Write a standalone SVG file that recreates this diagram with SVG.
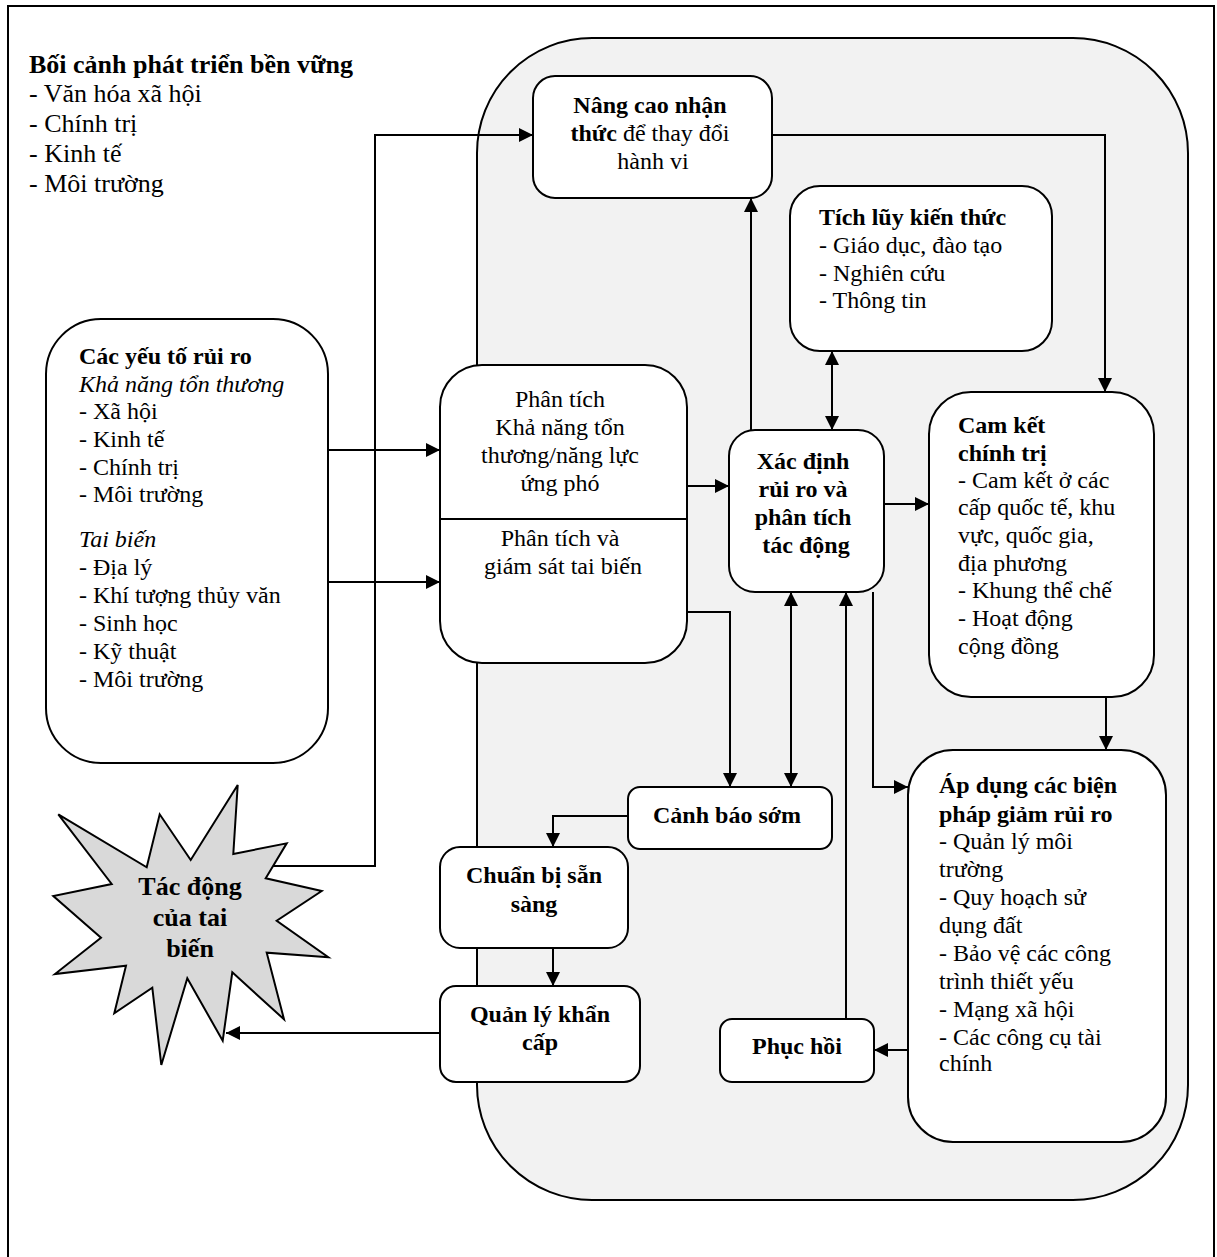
<svg xmlns="http://www.w3.org/2000/svg" width="1217" height="1257" viewBox="0 0 1217 1257">
<defs>
<marker id="ah" markerUnits="userSpaceOnUse" markerWidth="15" markerHeight="15" refX="14" refY="7" orient="auto-start-reverse">
<path d="M0,0 L14,7 L0,14 z" fill="#000"/>
</marker>
<style>
.box{fill:#fff;stroke:#000;stroke-width:2}
.ln{fill:none;stroke:#000;stroke-width:2}
.t{font-family:"Liberation Serif","Times New Roman",serif;font-size:24px;fill:#000}
.b{font-weight:bold}
.i{font-style:italic}
.c{text-anchor:middle}
</style>
</defs>
<rect x="0" y="0" width="1217" height="1257" fill="#fff"/>
<rect x="8" y="6" width="1206" height="1270" fill="none" stroke="#000" stroke-width="2"/>

<g id="context">
<text class="t" x="29" y="73" style="font-size:26px"><tspan class="b">Bối cảnh phát triển bền vững</tspan>
<tspan x="29" y="102">- Văn hóa xã hội</tspan>
<tspan x="29" y="132">- Chính trị</tspan>
<tspan x="29" y="162">- Kinh tế</tspan>
<tspan x="29" y="192">- Môi trường</tspan></text>
</g>

<g id="frame">
<rect x="477" y="38" width="711" height="1162" rx="115" ry="115" fill="#f2f2f2" stroke="#000" stroke-width="2"/>
</g>

<g id="connectors">
<path class="ln" d="M273,866 H375 V135 H533" marker-end="url(#ah)"/>
<path class="ln" d="M772,135 H1105 V392" marker-end="url(#ah)"/>
<path class="ln" d="M328,450 H440" marker-end="url(#ah)"/>
<path class="ln" d="M328,582 H440" marker-end="url(#ah)"/>
<path class="ln" d="M687,486 H729" marker-end="url(#ah)"/>
<path class="ln" d="M884,504 H929" marker-end="url(#ah)"/>
<path class="ln" d="M751,430 V198" marker-end="url(#ah)"/>
<path class="ln" d="M832,351 V430" marker-start="url(#ah)" marker-end="url(#ah)"/>
<path class="ln" d="M687,612 H730 V787" marker-end="url(#ah)"/>
<path class="ln" d="M791,592 V787" marker-start="url(#ah)" marker-end="url(#ah)"/>
<path class="ln" d="M846,1019 V592" marker-end="url(#ah)"/>
<path class="ln" d="M873,592 V787 H908" marker-end="url(#ah)"/>
<path class="ln" d="M1106,697 V750" marker-end="url(#ah)"/>
<path class="ln" d="M908,1050 H874" marker-end="url(#ah)"/>
<path class="ln" d="M628,816 H553 V847" marker-end="url(#ah)"/>
<path class="ln" d="M553,948 V986" marker-end="url(#ah)"/>
<path class="ln" d="M440,1033 H226" marker-end="url(#ah)"/>
</g>

<g id="risk-factors">
<rect class="box" x="46" y="319" width="282" height="444" rx="55"/>
<text class="t" x="79" y="364"><tspan class="b">Các yếu tố rủi ro</tspan>
<tspan x="79" y="392" class="i">Khả năng tổn thương</tspan>
<tspan x="79" y="419">- Xã hội</tspan>
<tspan x="79" y="447">- Kinh tế</tspan>
<tspan x="79" y="475">- Chính trị</tspan>
<tspan x="79" y="502">- Môi trường</tspan>
<tspan x="79" y="547" class="i">Tai biến</tspan>
<tspan x="79" y="575">- Địa lý</tspan>
<tspan x="79" y="603">- Khí tượng thủy văn</tspan>
<tspan x="79" y="631">- Sinh học</tspan>
<tspan x="79" y="659">- Kỹ thuật</tspan>
<tspan x="79" y="687">- Môi trường</tspan></text>
</g>

<g id="hazard-impact">
<polygon points="237.7,785 233.3,854 286.7,843.3 265.7,878.3 321.7,891 276.7,920.7 328.3,957.3 266.7,952.7 284,1019.3 232.3,972.3 222.7,1040.7 187.3,978.3 161.3,1065 152.3,987.7 114.3,1013.3 126,965.7 55,974 101,937.7 53.3,896 111.7,884 58.3,814.3 146.7,867.3 159.7,814.3 190.7,860" fill="#d9d9d9" stroke="#000" stroke-width="2" stroke-linejoin="miter"/>
<text class="t b c" x="190" y="895" style="font-size:26px">Tác động<tspan x="190" y="926">của tai</tspan><tspan x="190" y="957">biến</tspan></text>
</g>

<g id="awareness">
<rect class="box" x="533" y="76" width="239" height="122" rx="22"/>
<text class="t c" x="653" y="113"><tspan class="b">Nâng cao nhận</tspan>
<tspan x="653" y="141"><tspan class="b">thức</tspan> để thay đổi</tspan>
<tspan x="653" y="169">hành vi</tspan></text>
</g>

<g id="knowledge">
<rect class="box" x="790" y="186" width="262" height="165" rx="30"/>
<text class="t" x="819" y="225"><tspan class="b">Tích lũy kiến thức</tspan>
<tspan x="819" y="253">- Giáo dục, đào tạo</tspan>
<tspan x="819" y="281">- Nghiên cứu</tspan>
<tspan x="819" y="308">- Thông tin</tspan></text>
</g>

<g id="analysis">
<rect class="box" x="440" y="365" width="247" height="298" rx="42"/>
<line class="ln" x1="440" y1="519" x2="687" y2="519"/>
<text class="t c" x="563" y="407">Phân tích
<tspan x="563" y="435">Khả năng tổn</tspan>
<tspan x="563" y="463">thương/năng lực</tspan>
<tspan x="563" y="491">ứng phó</tspan>
<tspan x="563" y="546">Phân tích và</tspan>
<tspan x="563" y="574">giám sát tai biến</tspan></text>
</g>

<g id="risk-identification">
<rect class="box" x="729" y="430" width="155" height="162" rx="26"/>
<text class="t b c" x="806" y="469">Xác định
<tspan x="806" y="497">rủi ro và</tspan>
<tspan x="806" y="525">phân tích</tspan>
<tspan x="806" y="553">tác động</tspan></text>
</g>

<g id="political-commitment">
<rect class="box" x="929" y="392" width="225" height="305" rx="42"/>
<text class="t" x="958" y="433"><tspan class="b">Cam kết</tspan>
<tspan x="958" y="461" class="b">chính trị</tspan>
<tspan x="958" y="488">- Cam kết ở các</tspan>
<tspan x="958" y="515">cấp quốc tế, khu</tspan>
<tspan x="958" y="543">vực, quốc gia,</tspan>
<tspan x="958" y="571">địa phương</tspan>
<tspan x="958" y="598">- Khung thể chế</tspan>
<tspan x="958" y="626">- Hoạt động</tspan>
<tspan x="958" y="654">cộng đồng</tspan></text>
</g>

<g id="early-warning">
<rect class="box" x="628" y="787" width="204" height="62" rx="12"/>
<text class="t b c" x="727" y="823">Cảnh báo sớm</text>
</g>

<g id="preparedness">
<rect class="box" x="440" y="847" width="188" height="101" rx="20"/>
<text class="t b c" x="534" y="883">Chuẩn bị sẵn<tspan x="534" y="912">sàng</tspan></text>
</g>

<g id="emergency-management">
<rect class="box" x="440" y="986" width="200" height="96" rx="16"/>
<text class="t b c" x="540" y="1022">Quản lý khẩn<tspan x="540" y="1050">cấp</tspan></text>
</g>

<g id="recovery">
<rect class="box" x="720" y="1019" width="154" height="63" rx="12"/>
<text class="t b c" x="797" y="1054">Phục hồi</text>
</g>

<g id="risk-reduction">
<rect class="box" x="908" y="750" width="258" height="392" rx="45"/>
<text class="t" x="939" y="793"><tspan class="b">Áp dụng các biện</tspan>
<tspan x="939" y="822" class="b">pháp giảm rủi ro</tspan>
<tspan x="939" y="849">- Quản lý môi</tspan>
<tspan x="939" y="877">trường</tspan>
<tspan x="939" y="905">- Quy hoạch sử</tspan>
<tspan x="939" y="933">dụng đất</tspan>
<tspan x="939" y="961">- Bảo vệ các công</tspan>
<tspan x="939" y="989">trình thiết yếu</tspan>
<tspan x="939" y="1017">- Mạng xã hội</tspan>
<tspan x="939" y="1045">- Các công cụ tài</tspan>
<tspan x="939" y="1071">chính</tspan></text>
</g>
</svg>
